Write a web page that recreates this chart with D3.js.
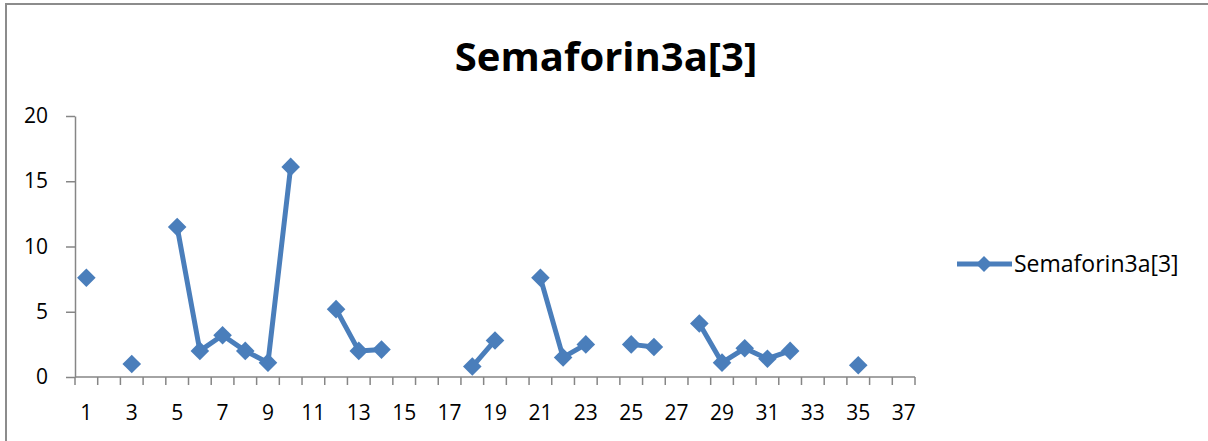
<!DOCTYPE html>
<html>
<head>
<meta charset="utf-8">
<script src="https://cdn.jsdelivr.net/npm/d3@7"></script>
<style>
  html, body { margin: 0; padding: 0; background: #fff; }
  svg { display: block; }
  text { font-family: "Open Sans", "Noto Sans", sans-serif; fill: #000; }
</style>
</head>
<body>
<svg id="chart" width="1208" height="441"></svg>
<script>
// Series: one value per sample index, null where no measurement exists
const seriesName = "Semaforin3a[3]";
const categories = d3.range(1, 38);
const values = [
  7.6, null, 1.0, null, 11.5, 2.0, 3.2, 2.0, 1.1, 16.1,
  null, 5.2, 2.0, 2.1, null, null, null, 0.8, 2.8, null,
  7.6, 1.5, 2.5, null, 2.5, 2.3, null, 4.1, 1.1, 2.2,
  1.4, 2.0, null, null, 0.9, null, null
];
const xTickLabels = d3.range(1, 38, 2);
const yTicks = [0, 5, 10, 15, 20];

const data = categories.map((c, i) => ({ cat: c, value: values[i] }));

const svg = d3.select("#chart");
const color = "#4a7ebb";
const axisColor = "#868686";

// Outer chart frame (left and top edges)
svg.append("line").attr("x1", 6).attr("x2", 6).attr("y1", 3).attr("y2", 441)
  .attr("stroke", "#8c8c8c").attr("stroke-width", 2);
svg.append("line").attr("x1", 5).attr("x2", 1208).attr("y1", 4).attr("y2", 4)
  .attr("stroke", "#8c8c8c").attr("stroke-width", 2);

const plot = { left: 75, right: 915, top: 116, bottom: 377 };

const x = d3.scaleBand().domain(categories).range([plot.left, plot.right]).paddingInner(0).paddingOuter(0);
const y = d3.scaleLinear().domain([0, 20]).range([plot.bottom, plot.top]);

// Title
svg.append("text")
  .attr("x", 606).attr("y", 71)
  .attr("text-anchor", "middle")
  .style("font-size", "40px").style("font-weight", "bold")
  .text(seriesName);

// Y axis
const yAxis = svg.append("g").attr("transform", `translate(${plot.left},0)`)
  .call(d3.axisLeft(y).tickValues(yTicks).tickSize(9).tickPadding(18).tickSizeOuter(0));
yAxis.select(".domain").attr("stroke", axisColor).attr("stroke-width", 1.5);
yAxis.selectAll(".tick line").attr("stroke", axisColor).attr("stroke-width", 1.5);
yAxis.selectAll(".tick text").style("font-size", "21px").style("font-family", '"Open Sans", sans-serif').attr("fill", "#000");

// X axis: ticks at category boundaries, labels centred on every other category
const xg = svg.append("g").attr("transform", `translate(0,${plot.bottom})`);
xg.append("line").attr("x1", plot.left).attr("x2", plot.right).attr("y1", 0).attr("y2", 0)
  .attr("stroke", axisColor).attr("stroke-width", 1.5);
const boundaries = categories.map(c => x(c)).concat([x(categories[categories.length - 1]) + x.bandwidth()]);
xg.selectAll("line.tk").data(boundaries).join("line").attr("class", "tk")
  .attr("x1", d => d).attr("x2", d => d).attr("y1", 0).attr("y2", 8)
  .attr("stroke", axisColor).attr("stroke-width", 1.5);
xg.selectAll("text").data(xTickLabels).join("text")
  .attr("x", d => x(d) + x.bandwidth() / 2).attr("y", 43)
  .attr("text-anchor", "middle").style("font-size", "21px")
  .text(d => d);

// Line with gaps where values are missing
const cx = d => x(d.cat) + x.bandwidth() / 2;
const line = d3.line().defined(d => d.value !== null).x(cx).y(d => y(d.value));
svg.append("path").datum(data).attr("d", line)
  .attr("fill", "none").attr("stroke", color).attr("stroke-width", 5)
  .attr("stroke-linejoin", "round");

const diamond = d3.symbol().type(d3.symbolDiamond2).size(2 * 10.5 * 10.5);
svg.selectAll("path.pt").data(data.filter(d => d.value !== null)).join("path")
  .attr("class", "pt")
  .attr("transform", d => `translate(${cx(d)},${y(d.value)})`)
  .attr("d", diamond).attr("fill", color);

// Legend
const lg = svg.append("g").attr("transform", "translate(957,264)");
lg.append("line").attr("x1", 0).attr("x2", 55).attr("y1", 0).attr("y2", 0)
  .attr("stroke", color).attr("stroke-width", 5);
lg.append("path").attr("transform", "translate(27,0)").attr("d", d3.symbol().type(d3.symbolDiamond2).size(2 * 9 * 9)).attr("fill", color);
lg.append("text").attr("x", 57).attr("y", 8).style("font-size", "23px").text(seriesName);
</script>
</body>
</html>
